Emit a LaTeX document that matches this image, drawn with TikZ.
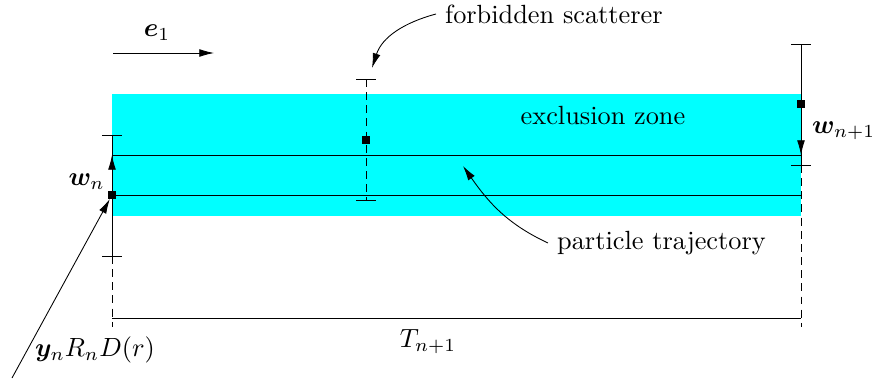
\documentclass[tikz,border=0pt]{standalone}
\usepackage{amsmath,amssymb,bm}
\usetikzlibrary{arrows.meta,positioning}
\definecolor{ZoneCyan}{RGB}{0,255,255}

\begin{document}
\begin{tikzpicture}[x=0.38pt,y=-0.38pt,line width=0.33pt,
    marker/.style={fill=black,inner sep=0pt,minimum size=2.7pt},
    arrow/.style={-{Latex[length=5.6pt,width=3pt]}},
    dimtick/.style={line width=0.33pt},
    guide/.style={dashed,dash pattern=on 3pt off 2pt}
  ]
    \useasboundingbox (0,0) rectangle (877,382);
    \fill[ZoneCyan] (112,94) rectangle (801,216);

    % trajectory
    \coordinate (trA) at (112,155); \coordinate (trB) at (801,155);
    \coordinate (trC) at (112,195); \coordinate (trD) at (801,195);
    \draw (trA) -- (trB);
    \draw (trC) -- (trD);

    % ticks
    \foreach \x/\y in {112/135,112/256,366/79,366/200,801/44,801/165}
      \draw[dimtick] (\x-10,\y) -- (\x+10,\y);

    % left: w_n
    \coordinate (lTop) at (112,135); \coordinate (lBot) at (112,256);
    \coordinate (lEnd) at (112,327);
    \node[marker] (pn) at (112,195) {};
    \draw (lTop) -- (lBot);
    \draw[guide] (lBot) -- (lEnd);
    \draw[arrow] (pn) -- (trA);
    \node[anchor=east] (wn) at (114,182) {$\bm{w}_n$};

    % middle: forbidden scatterer
    \coordinate (mTop) at (366,79); \coordinate (mBot) at (366,200);
    \draw[guide] (mTop) -- (mBot);
    \node[marker] (ps) at (366,140) {};

    % right: w_{n+1}
    \coordinate (rTop) at (801,44); \coordinate (rBot) at (801,165);
    \coordinate (rEnd) at (801,327);
    \node[marker] (pm) at (801,104) {};
    \draw (rTop) -- (rBot);
    \draw[guide] (rBot) -- (rEnd);
    \draw[arrow] (pm) -- (trB);
    \node[anchor=west] (wm) at (803,131) {$\bm{w}_{n+1}$};

    % T_{n+1}
    \coordinate (tL) at (112,318); \coordinate (tR) at (801,318);
    \draw (tL) -- (tR);
    \node (tn) at (428,342) {$T_{n+1}$};

    % e_1
    \coordinate (eA) at (113,53); \coordinate (eB) at (214,53);
    \draw[arrow] (eA) -- (eB);
    \node (e1) at (157,33) {$\bm{e}_1$};

    % labels
    \node (ex) at (603,116) {exclusion zone};
    \node[anchor=west] (fs) at (436,14) {forbidden scatterer};
    \coordinate (fsEnd) at (372,68);
    \draw[arrow] (fs.west) to[out=195,in=72] (fsEnd);
    \node[anchor=west] (pt) at (548,243) {particle trajectory};
    \coordinate (ptEnd) at (463,166);
    \draw[arrow] (pt.west) to[out=155,in=305] (ptEnd);
    \node (yn) at (95,350) {$\bm{y}_n R_n D(r)$};
    \coordinate (ynStart) at (12,378);
    \draw[arrow] (ynStart) -- (pn);
\end{tikzpicture}
\end{document}
